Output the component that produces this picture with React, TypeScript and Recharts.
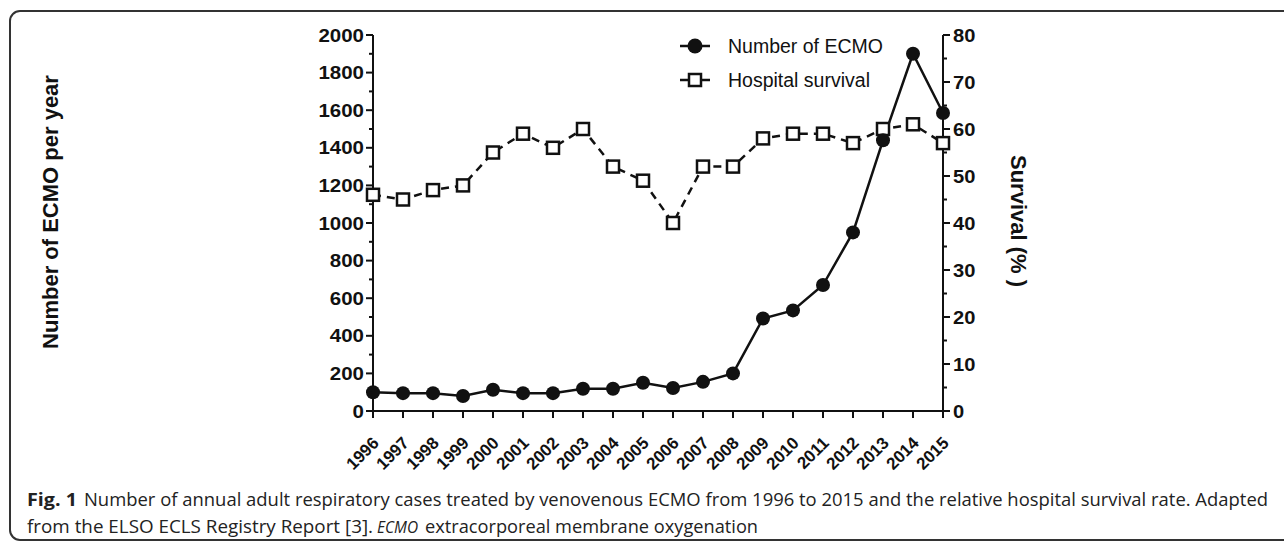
import React from 'react';
import { ComposedChart, Line, XAxis, YAxis, Legend } from 'recharts';

const years = ['1996', '1997', '1998', '1999', '2000', '2001', '2002', '2003', '2004', '2005', '2006', '2007', '2008', '2009', '2010', '2011', '2012', '2013', '2014', '2015'];
const ecmoCases = [100, 95, 95, 80, 113, 95, 95, 118, 118, 150, 122, 155, 200, 492, 535, 670, 950, 1440, 1900, 1585];
const survivalPct = [46, 45, 47, 48, 55, 59, 56, 60, 52, 49, 40, 52, 52, 58, 59, 59, 57, 60, 61, 57];
const leftTicks = [0, 100, 200, 300, 400, 500, 600, 700, 800, 900, 1000, 1100, 1200, 1300, 1400, 1500, 1600, 1700, 1800, 1900, 2000];
const rightTicks = [0, 5, 10, 15, 20, 25, 30, 35, 40, 45, 50, 55, 60, 65, 70, 75, 80];
const seriesNames = { ecmo: 'Number of ECMO', survival: 'Hospital survival' };
const leftTitle = 'Number of ECMO per year';
const rightTitle = 'Survival (% )';

const data = years.map((year, i) => ({ year, ecmo: ecmoCases[i], survival: survivalPct[i] }));

const FONT = '"Liberation Sans", Arial, Helvetica, sans-serif';
const CAP_FONT = '"Open Sans", sans-serif';
const INK = '#111';

const LeftTick = (props: any) => {
  const { x, y, payload } = props;
  const v = payload.value as number;
  const major = v % 200 === 0;
  const s = String(v);
  return (
    <g>
      <line x1={x - (major ? 7 : 4)} x2={x} y1={y} y2={y} stroke={INK} strokeWidth={2} />
      {major && (
        <text x={x - 9} y={y} dy={6.5} textAnchor="end" fontFamily={FONT} fontWeight="bold" fontSize={18} fill={INK}
          textLength={s.length * 11.4} lengthAdjust="spacingAndGlyphs">{s}</text>
      )}
    </g>
  );
};

const RightTick = (props: any) => {
  const { x, y, payload } = props;
  const v = payload.value as number;
  const major = v % 10 === 0;
  const s = String(v);
  return (
    <g>
      <line x1={x} x2={x + (major ? 7 : 4)} y1={y} y2={y} stroke={INK} strokeWidth={2} />
      {major && (
        <text x={x + 10} y={y} dy={6.5} textAnchor="start" fontFamily={FONT} fontWeight="bold" fontSize={18} fill={INK}
          textLength={s.length * 11.2} lengthAdjust="spacingAndGlyphs">{s}</text>
      )}
    </g>
  );
};

const XTick = (props: any) => {
  const { x, y, payload } = props;
  const px = x + 7;
  const py = y + 26;
  return (
    <text x={px} y={py} transform={`rotate(-45, ${px}, ${py})`} textAnchor="end" fontFamily={FONT} fontWeight="bold" fontSize={17} fill={INK}>
      {payload.value}
    </text>
  );
};

const EcmoDot = (p: any) => (
  <circle key={`e-${p.index}`} cx={p.cx} cy={p.cy} r={7} fill={INK} />
);
const SurvDot = (p: any) => (
  <rect key={`s-${p.index}`} x={p.cx - 6} y={p.cy - 6} width={12} height={12} fill="#fff" stroke={INK} strokeWidth={2.5} />
);

const LegendContent = (props: any) => {
  const items = [
    { key: 'ecmo', label: seriesNames.ecmo },
    { key: 'survival', label: seriesNames.survival },
  ];
  return (
    <svg width={240} height={72} style={{ display: 'block' }}>
      {items.map((it, i) => {
        const cy = 18 + i * 34;
        return (
          <g key={it.key}>
            <line x1={2} x2={32} y1={cy} y2={cy} stroke={INK} strokeWidth={2.5} />
            {it.key === 'ecmo' ? (
              <circle cx={17} cy={cy} r={7.5} fill={INK} />
            ) : (
              <rect x={11} y={cy - 6} width={12} height={12} fill="#fff" stroke={INK} strokeWidth={2.5} />
            )}
            <text x={50} y={cy + 7} fontFamily={FONT} fontSize={19.5} fill={INK}>{it.label}</text>
          </g>
        );
      })}
    </svg>
  );
};

export default function App() {
  return (
    <div style={{ position: 'absolute', left: 0, top: 0, width: 1284, height: 544, overflow: 'hidden', background: '#fff' }}>
      <div style={{ position: 'absolute', left: 9, top: 10, width: 1300, height: 531, border: '2px solid #333', borderRadius: 11, boxSizing: 'border-box' }} />
      <div style={{ position: 'absolute', left: 0, top: 0 }}>
        <ComposedChart width={1284} height={544} data={data} margin={{ top: 35, right: 261, bottom: 73, left: 293 }}>
          <XAxis dataKey="year" height={60} axisLine={{ stroke: INK, strokeWidth: 2 }} tickLine={{ stroke: INK, strokeWidth: 2 }}
            tickSize={7} tickMargin={0} interval={0} tick={<XTick />} />
          <YAxis yAxisId="left" orientation="left" width={80} domain={[0, 2000]} ticks={leftTicks} interval={0}
            axisLine={{ stroke: INK, strokeWidth: 2 }} tickLine={false} tickSize={0} tickMargin={0} tick={<LeftTick />} />
          <YAxis yAxisId="right" orientation="right" width={80} domain={[0, 80]} ticks={rightTicks} interval={0}
            axisLine={{ stroke: INK, strokeWidth: 2 }} tickLine={false} tickSize={0} tickMargin={0} tick={<RightTick />} />
          <Legend layout="vertical" align="center" verticalAlign="middle" content={<LegendContent />}
            wrapperStyle={{ position: 'absolute', left: 678, top: 28, width: 240, height: 72 }} />
          <Line yAxisId="right" dataKey="survival" name={seriesNames.survival} type="linear" stroke={INK} strokeWidth={2.5}
            strokeDasharray="8 6" dot={SurvDot} activeDot={false} isAnimationActive={false} />
          <Line yAxisId="left" dataKey="ecmo" name={seriesNames.ecmo} type="linear" stroke={INK} strokeWidth={2.5}
            dot={EcmoDot} activeDot={false} isAnimationActive={false} />
        </ComposedChart>
      </div>
      <svg width={1284} height={544} style={{ position: 'absolute', left: 0, top: 0, pointerEvents: 'none' }}>
        <text transform="translate(58,212) rotate(-90)" textAnchor="middle" fontFamily={FONT} fontWeight="bold" fontSize={22} fill={INK}>{leftTitle}</text>
        <text transform="translate(1011,221) rotate(90)" textAnchor="middle" fontFamily={FONT} fontWeight="bold" fontSize={22} fill={INK}>{rightTitle}</text>
        <text x={27} y={506} fontFamily={CAP_FONT} fontWeight="bold" fontSize={18.5} fill="#222" textLength={50} lengthAdjust="spacingAndGlyphs">Fig. 1</text>
        <text x={84} y={506} fontFamily={CAP_FONT} fontSize={18.3} fill="#222" textLength={1184} lengthAdjust="spacingAndGlyphs">Number of annual adult respiratory cases treated by venovenous ECMO from 1996 to 2015 and the relative hospital survival rate. Adapted</text>
        <text x={27} y={533} fontFamily={CAP_FONT} fontSize={18.3} fill="#222" textLength={346} lengthAdjust="spacingAndGlyphs">from the ELSO ECLS Registry Report [3].</text>
        <text x={377} y={533} fontFamily={CAP_FONT} fontStyle="italic" fontSize={16.5} fill="#222" textLength={41} lengthAdjust="spacingAndGlyphs">ECMO</text>
        <text x={425} y={533} fontFamily={CAP_FONT} fontSize={18.3} fill="#222" textLength={333} lengthAdjust="spacingAndGlyphs">extracorporeal membrane oxygenation</text>
      </svg>
    </div>
  );
}
